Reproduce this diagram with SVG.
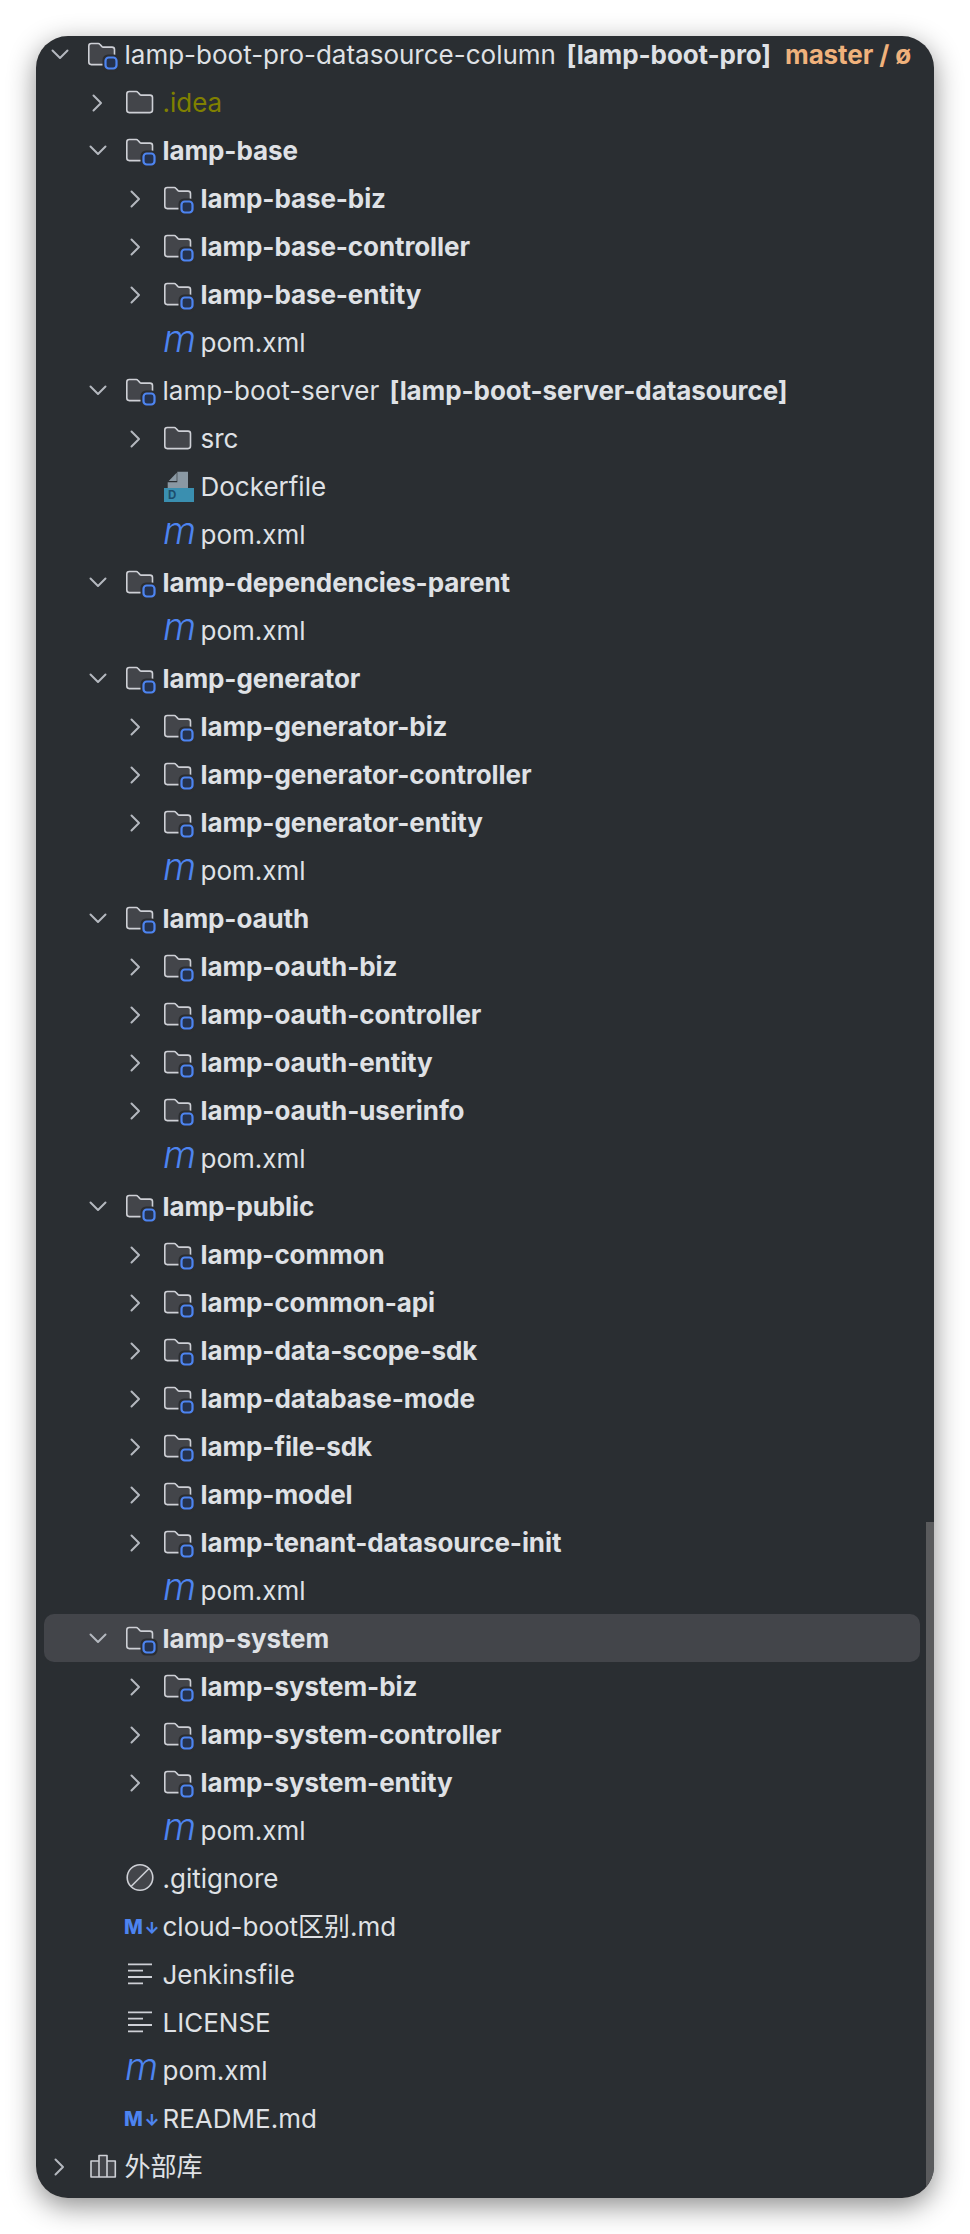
<svg xmlns="http://www.w3.org/2000/svg" width="970" height="2234" viewBox="0 0 970 2234">
<style>
text{font-family:Inter,"Noto Sans CJK SC",sans-serif;font-size:26px;fill:#dfe1e5}
.b{font-weight:700;letter-spacing:-.1px}
.i{fill:#43454a;stroke:#ced0d6;stroke-width:1.6;stroke-linejoin:round}
.c{fill:none;stroke:#b4b8bf;stroke-width:2;stroke-linecap:round;stroke-linejoin:round}
.mvn{font-style:italic;font-weight:300;font-size:38px;fill:#4d84f0}
.md{font-weight:800;font-size:20px;fill:#4d84f0}
.ar{font-size:16px}
</style>
<defs>
<filter id="sh" x="-10%" y="-5%" width="120%" height="110%"><feDropShadow dx="0" dy="8" stdDeviation="14" flood-color="#000" flood-opacity="0.45"/></filter>
<path id="folder" class="i" d="M.8-9a2.5 2.5 0 0 1 2.5-2.5h7a2 2 0 0 1 1.5.7l2 2.2a2 2 0 0 0 1.5.7H24a2.5 2.5 0 0 1 2.5 2.5V7.1a2.5 2.5 0 0 1-2.5 2.5H3.3a2.5 2.5 0 0 1-2.5-2.5z"/>
<g id="mod"><use href="#folder"/><rect x="14.5" y="-.5" width="17" height="17" rx="5.5" fill="#2b2d30"/><rect x="17.5" y="2.5" width="11" height="11" rx="3.2" fill="#25324d" stroke="#4d84f0" stroke-width="2.2"/></g>
<polyline id="cr" class="c" points="0,-7.5 7.5,0 0,7.5"/>
<polyline id="cd" class="c" points="0,-4.5 7.5,3 15,-4.5"/>
<g id="lines" fill="none" stroke="#ced0d6" stroke-width="1.8"><path d="M2-10.7H26M2-4.3H17M2 2H26M2 8.3H17"/></g>
</defs>
<rect width="970" height="2234" fill="#fff"/>
<rect id="panel" x="36" y="36" width="898" height="2162" rx="32" fill="#2b2d30" filter="url(#sh)"/>
<path id="scrollbar" d="M926 1522h8v645a32 32 0 0 1-8 20z" fill="#5a5b5d"/>
<rect id="selection" x="44" y="1614" width="876" height="48" rx="10" fill="#43454a"/>

<g id="root" transform="translate(0,55)"><use href="#cd" x="52.5"/><use href="#mod" x="88"/><text x="124.5" y="9">lamp-boot-pro-datasource-column</text><text x="566.5" y="9" class="b">[lamp-boot-pro]</text><text x="785" y="9" class="b" style="fill:#f0b27c">master / ø</text></g>
<g id="idea" transform="translate(0,103)"><use href="#cr" x="93.5"/><use href="#folder" x="126"/><text x="162.5" y="9" style="fill:#808000">.idea</text></g>
<g id="lamp-base" transform="translate(0,151)"><use href="#cd" x="90.5"/><use href="#mod" x="126"/><text x="162.5" y="9" class="b">lamp-base</text></g>
<g id="lamp-base-biz" transform="translate(0,199)"><use href="#cr" x="131.5"/><use href="#mod" x="164"/><text x="200.5" y="9" class="b">lamp-base-biz</text></g>
<g id="lamp-base-controller" transform="translate(0,247)"><use href="#cr" x="131.5"/><use href="#mod" x="164"/><text x="200.5" y="9" class="b">lamp-base-controller</text></g>
<g id="lamp-base-entity" transform="translate(0,295)"><use href="#cr" x="131.5"/><use href="#mod" x="164"/><text x="200.5" y="9" class="b">lamp-base-entity</text></g>
<g id="lamp-base-pom" transform="translate(0,343)"><text x="163" y="9" class="mvn">m</text><text x="200.5" y="9">pom.xml</text></g>
<g id="lamp-boot-server" transform="translate(0,391)"><use href="#cd" x="90.5"/><use href="#mod" x="126"/><text x="162.5" y="9">lamp-boot-server</text><text x="389.5" y="9" class="b">[lamp-boot-server-datasource]</text></g>
<g id="src" transform="translate(0,439)"><use href="#cr" x="131.5"/><use href="#folder" x="164"/><text x="200.5" y="9">src</text></g>
<g id="dockerfile" transform="translate(0,487)"><path d="M177.3-15.3H188V1H167.7V-4.7h9.6z" fill="#8a98a3"/><path d="M176.7-14.3V-6H168.7z" fill="#8a98a3"/><rect x="164" y="1" width="30" height="14" fill="#3a8fb0"/><text x="168" y="12.3" style="font-weight:700;font-size:11.5px;fill:#1c4d6c">D</text><text x="200.5" y="9">Dockerfile</text></g>
<g id="lamp-boot-server-pom" transform="translate(0,535)"><text x="163" y="9" class="mvn">m</text><text x="200.5" y="9">pom.xml</text></g>
<g id="lamp-dependencies-parent" transform="translate(0,583)"><use href="#cd" x="90.5"/><use href="#mod" x="126"/><text x="162.5" y="9" class="b">lamp-dependencies-parent</text></g>
<g id="lamp-dependencies-pom" transform="translate(0,631)"><text x="163" y="9" class="mvn">m</text><text x="200.5" y="9">pom.xml</text></g>
<g id="lamp-generator" transform="translate(0,679)"><use href="#cd" x="90.5"/><use href="#mod" x="126"/><text x="162.5" y="9" class="b">lamp-generator</text></g>
<g id="lamp-generator-biz" transform="translate(0,727)"><use href="#cr" x="131.5"/><use href="#mod" x="164"/><text x="200.5" y="9" class="b">lamp-generator-biz</text></g>
<g id="lamp-generator-controller" transform="translate(0,775)"><use href="#cr" x="131.5"/><use href="#mod" x="164"/><text x="200.5" y="9" class="b">lamp-generator-controller</text></g>
<g id="lamp-generator-entity" transform="translate(0,823)"><use href="#cr" x="131.5"/><use href="#mod" x="164"/><text x="200.5" y="9" class="b">lamp-generator-entity</text></g>
<g id="lamp-generator-pom" transform="translate(0,871)"><text x="163" y="9" class="mvn">m</text><text x="200.5" y="9">pom.xml</text></g>
<g id="lamp-oauth" transform="translate(0,919)"><use href="#cd" x="90.5"/><use href="#mod" x="126"/><text x="162.5" y="9" class="b">lamp-oauth</text></g>
<g id="lamp-oauth-biz" transform="translate(0,967)"><use href="#cr" x="131.5"/><use href="#mod" x="164"/><text x="200.5" y="9" class="b">lamp-oauth-biz</text></g>
<g id="lamp-oauth-controller" transform="translate(0,1015)"><use href="#cr" x="131.5"/><use href="#mod" x="164"/><text x="200.5" y="9" class="b">lamp-oauth-controller</text></g>
<g id="lamp-oauth-entity" transform="translate(0,1063)"><use href="#cr" x="131.5"/><use href="#mod" x="164"/><text x="200.5" y="9" class="b">lamp-oauth-entity</text></g>
<g id="lamp-oauth-userinfo" transform="translate(0,1111)"><use href="#cr" x="131.5"/><use href="#mod" x="164"/><text x="200.5" y="9" class="b">lamp-oauth-userinfo</text></g>
<g id="lamp-oauth-pom" transform="translate(0,1159)"><text x="163" y="9" class="mvn">m</text><text x="200.5" y="9">pom.xml</text></g>
<g id="lamp-public" transform="translate(0,1207)"><use href="#cd" x="90.5"/><use href="#mod" x="126"/><text x="162.5" y="9" class="b">lamp-public</text></g>
<g id="lamp-common" transform="translate(0,1255)"><use href="#cr" x="131.5"/><use href="#mod" x="164"/><text x="200.5" y="9" class="b">lamp-common</text></g>
<g id="lamp-common-api" transform="translate(0,1303)"><use href="#cr" x="131.5"/><use href="#mod" x="164"/><text x="200.5" y="9" class="b">lamp-common-api</text></g>
<g id="lamp-data-scope-sdk" transform="translate(0,1351)"><use href="#cr" x="131.5"/><use href="#mod" x="164"/><text x="200.5" y="9" class="b">lamp-data-scope-sdk</text></g>
<g id="lamp-database-mode" transform="translate(0,1399)"><use href="#cr" x="131.5"/><use href="#mod" x="164"/><text x="200.5" y="9" class="b">lamp-database-mode</text></g>
<g id="lamp-file-sdk" transform="translate(0,1447)"><use href="#cr" x="131.5"/><use href="#mod" x="164"/><text x="200.5" y="9" class="b">lamp-file-sdk</text></g>
<g id="lamp-model" transform="translate(0,1495)"><use href="#cr" x="131.5"/><use href="#mod" x="164"/><text x="200.5" y="9" class="b">lamp-model</text></g>
<g id="lamp-tenant-datasource-init" transform="translate(0,1543)"><use href="#cr" x="131.5"/><use href="#mod" x="164"/><text x="200.5" y="9" class="b">lamp-tenant-datasource-init</text></g>
<g id="lamp-public-pom" transform="translate(0,1591)"><text x="163" y="9" class="mvn">m</text><text x="200.5" y="9">pom.xml</text></g>
<g id="lamp-system" transform="translate(0,1639)"><use href="#cd" x="90.5"/><use href="#mod" x="126"/><text x="162.5" y="9" class="b">lamp-system</text></g>
<g id="lamp-system-biz" transform="translate(0,1687)"><use href="#cr" x="131.5"/><use href="#mod" x="164"/><text x="200.5" y="9" class="b">lamp-system-biz</text></g>
<g id="lamp-system-controller" transform="translate(0,1735)"><use href="#cr" x="131.5"/><use href="#mod" x="164"/><text x="200.5" y="9" class="b">lamp-system-controller</text></g>
<g id="lamp-system-entity" transform="translate(0,1783)"><use href="#cr" x="131.5"/><use href="#mod" x="164"/><text x="200.5" y="9" class="b">lamp-system-entity</text></g>
<g id="lamp-system-pom" transform="translate(0,1831)"><text x="163" y="9" class="mvn">m</text><text x="200.5" y="9">pom.xml</text></g>
<g id="gitignore" transform="translate(0,1879)"><circle cx="140" cy="-1.5" r="12.8" class="i"/><line x1="131" y1="7.5" x2="149" y2="-10.5" stroke="#ced0d6" stroke-width="1.6"/><text x="162.5" y="9">.gitignore</text></g>
<g id="cloud-boot" transform="translate(0,1927)"><text x="124" y="6.5" class="md">M<tspan x="144.5" class="ar">↓</tspan></text><text x="162.5" y="9">cloud-boot区别.md</text></g>
<g id="jenkinsfile" transform="translate(0,1975)"><use href="#lines" x="126"/><text x="162.5" y="9">Jenkinsfile</text></g>
<g id="license" transform="translate(0,2023)"><use href="#lines" x="126"/><text x="162.5" y="9">LICENSE</text></g>
<g id="pom" transform="translate(0,2071)"><text x="125" y="9" class="mvn">m</text><text x="162.5" y="9">pom.xml</text></g>
<g id="readme" transform="translate(0,2119)"><text x="124" y="6.5" class="md">M<tspan x="144.5" class="ar">↓</tspan></text><text x="162.5" y="9">README.md</text></g>
<g id="external-libs" transform="translate(0,2167)"><use href="#cr" x="55.5"/><path class="i" d="M91-6h8V10H91zM99-11.5h8V10H99zM107-6h8.3V10H107z"/><text x="124.5" y="9">外部库</text></g>
</svg>
